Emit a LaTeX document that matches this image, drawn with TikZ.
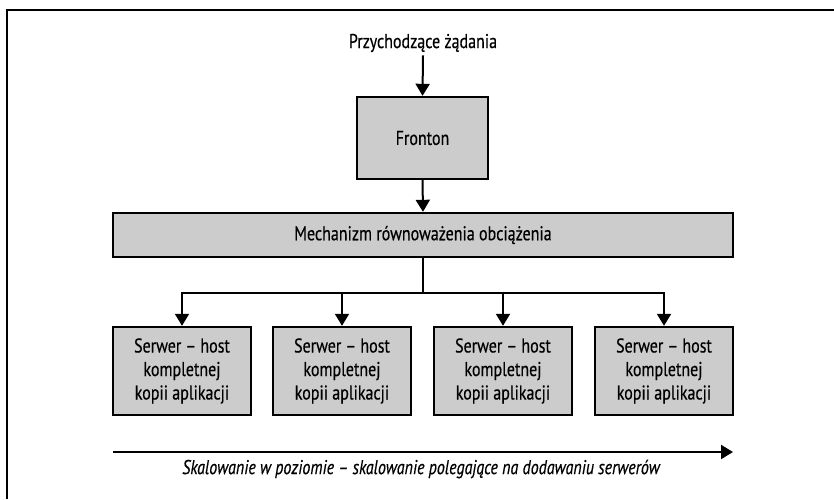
\documentclass[tikz,border=0pt]{standalone}
\usepackage{fontspec}
\setmainfont[FakeStretch=0.8,FakeBold=0.4]{PT Sans}
\usetikzlibrary{arrows.meta}
\definecolor{boxgray}{HTML}{CCCCCC}
\begin{document}
\begin{tikzpicture}[x=1pt,y=-1pt,
  box/.style={draw=black,line width=2.4pt,fill=boxgray,inner sep=0pt,align=center,font=\fontsize{20}{23.5}\selectfont},
  conn/.style={line width=2pt},
  arr/.style={line width=2pt,-{Triangle[length=12pt,width=14pt]}},
  lbl/.style={inner sep=0pt,font=\fontsize{20}{22}\selectfont}]
\useasboundingbox (0,0) rectangle (834,499);
\draw[line width=2.3pt] (7,499) -- (7,10) -- (834,10);
\node[lbl] (title) at (423,43) {Przychodzące żądania};
\node[box,minimum width=131pt,minimum height=82pt] (front) at (422.5,138) {Fronton};
\node[box,minimum width=620pt,minimum height=44pt] (bar) at (423,235) {Mechanizm równoważenia obciążenia};
\foreach \i/\x in {1/182,2/342,3/503,4/664}{
  \node[box,minimum width=138pt,minimum height=88pt] (s\i) at (\x,371) {Serwer – host\\kompletnej\\kopii aplikacji};
}
\coordinate (br) at (423,293);
\draw[arr] ([yshift=-3pt]title.south) -- (front.north);
\draw[arr] (front.south) -- (bar.north);
\draw[conn] (bar.south) -- (br);
\foreach \i in {1,2,3,4}{\draw[arr] (br) -| (s\i.north);}
\coordinate (ha) at (113,452);
\coordinate (hb) at (733,452);
\draw[arr] (ha) -- (hb);
\node[lbl,font=\fontsize{20}{22}\selectfont\itshape] (cap) at (421,469) {Skalowanie w poziomie – skalowanie polegające na dodawaniu serwerów};
\end{tikzpicture}
\end{document}
